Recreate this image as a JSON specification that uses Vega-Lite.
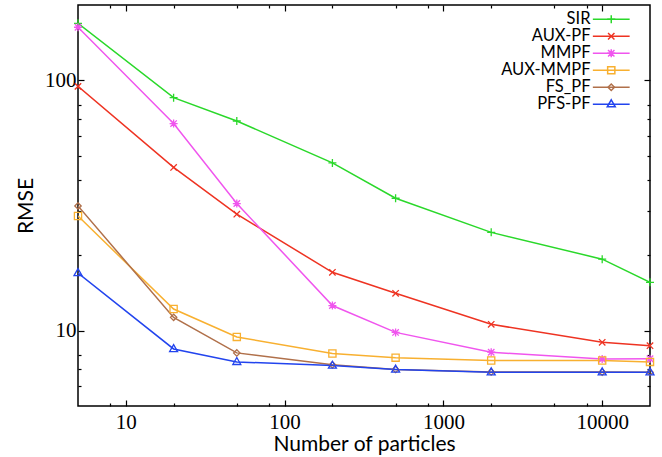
{
  "$schema": "https://vega.github.io/schema/vega-lite/v6.json",
  "width": 572,
  "height": 401,
  "autosize": "none",
  "padding": {"left": 78, "top": 5, "right": 12, "bottom": 51},
  "background": "white",
  "config": {
    "view": {"stroke": "black", "strokeWidth": 1.5},
    "axis": {"grid": false, "domain": false, "tickColor": "black", "tickWidth": 1.2, "labelColor": "black", "titleColor": "black", "labelFont": "Liberation Serif", "labelFontSize": 21, "titleFont": "Lato", "titleFontSize": 21, "titleFontWeight": "normal", "labelOverlap": false, "labelFlush": false},
    "legend": {"orient": "none", "legendX": 525, "legendY": 6, "title": null, "padding": 0,
      "symbolSize": 64, "rowPadding": -0.5, "labelFont": "Lato", "labelFontSize": 16.5, "labelColor": "black",
      "labelAlign": "right", "labelOffset": -29, "symbolStrokeWidth": 1.5}
  },
  "data": {"values": [
    {"n": 5, "rmse": 169, "method": "SIR"},
    {"n": 20, "rmse": 85.3, "method": "SIR"},
    {"n": 50, "rmse": 68.8, "method": "SIR"},
    {"n": 200, "rmse": 46.8, "method": "SIR"},
    {"n": 500, "rmse": 33.8, "method": "SIR"},
    {"n": 2000, "rmse": 24.7, "method": "SIR"},
    {"n": 10000, "rmse": 19.3, "method": "SIR"},
    {"n": 20000, "rmse": 15.6, "method": "SIR"},
    {"n": 5, "rmse": 94.6, "method": "AUX-PF"},
    {"n": 20, "rmse": 44.9, "method": "AUX-PF"},
    {"n": 50, "rmse": 29.2, "method": "AUX-PF"},
    {"n": 200, "rmse": 17.1, "method": "AUX-PF"},
    {"n": 500, "rmse": 14.1, "method": "AUX-PF"},
    {"n": 2000, "rmse": 10.6, "method": "AUX-PF"},
    {"n": 10000, "rmse": 8.98, "method": "AUX-PF"},
    {"n": 20000, "rmse": 8.71, "method": "AUX-PF"},
    {"n": 5, "rmse": 163, "method": "MMPF"},
    {"n": 20, "rmse": 67.2, "method": "MMPF"},
    {"n": 50, "rmse": 32.2, "method": "MMPF"},
    {"n": 200, "rmse": 12.6, "method": "MMPF"},
    {"n": 500, "rmse": 9.84, "method": "MMPF"},
    {"n": 2000, "rmse": 8.2, "method": "MMPF"},
    {"n": 10000, "rmse": 7.7, "method": "MMPF"},
    {"n": 20000, "rmse": 7.72, "method": "MMPF"},
    {"n": 5, "rmse": 28.7, "method": "AUX-MMPF"},
    {"n": 20, "rmse": 12.2, "method": "AUX-MMPF"},
    {"n": 50, "rmse": 9.44, "method": "AUX-MMPF"},
    {"n": 200, "rmse": 8.1, "method": "AUX-MMPF"},
    {"n": 500, "rmse": 7.8, "method": "AUX-MMPF"},
    {"n": 2000, "rmse": 7.6, "method": "AUX-MMPF"},
    {"n": 10000, "rmse": 7.6, "method": "AUX-MMPF"},
    {"n": 20000, "rmse": 7.5, "method": "AUX-MMPF"},
    {"n": 5, "rmse": 31.5, "method": "FS_PF"},
    {"n": 20, "rmse": 11.3, "method": "FS_PF"},
    {"n": 50, "rmse": 8.15, "method": "FS_PF"},
    {"n": 200, "rmse": 7.3, "method": "FS_PF"},
    {"n": 500, "rmse": 7.0, "method": "FS_PF"},
    {"n": 2000, "rmse": 6.84, "method": "FS_PF"},
    {"n": 10000, "rmse": 6.83, "method": "FS_PF"},
    {"n": 20000, "rmse": 6.82, "method": "FS_PF"},
    {"n": 5, "rmse": 17.0, "method": "PFS-PF"},
    {"n": 20, "rmse": 8.45, "method": "PFS-PF"},
    {"n": 50, "rmse": 7.5, "method": "PFS-PF"},
    {"n": 200, "rmse": 7.25, "method": "PFS-PF"},
    {"n": 500, "rmse": 6.99, "method": "PFS-PF"},
    {"n": 2000, "rmse": 6.82, "method": "PFS-PF"},
    {"n": 10000, "rmse": 6.82, "method": "PFS-PF"},
    {"n": 20000, "rmse": 6.82, "method": "PFS-PF"}
  ]},
  "resolve": {"axis": {"x": "independent", "y": "independent"}, "legend": {"color": "independent", "stroke": "independent", "shape": "independent"}},
  "layer": [
    {
      "mark": {"type": "line", "strokeWidth": 1.5, "clip": true},
      "encoding": {
        "x": {"field": "n", "type": "quantitative",
          "scale": {"type": "log", "domain": [5, 20000], "nice": false},
          "axis": {"orient": "bottom", "title": "Number of particles", "titlePadding": -2,
            "values": [8, 10, 20, 50, 80, 100, 200, 500, 800, 1000, 2000, 5000, 8000, 10000],
            "labelExpr": "(datum.value==10||datum.value==100||datum.value==1000||datum.value==10000) ? format(datum.value,'d') : ''",
            "tickSize": {"condition": {"test": "datum.value==10||datum.value==100||datum.value==1000||datum.value==10000", "value": -6}, "value": -3},
            "labelPadding": 11}},
        "y": {"field": "rmse", "type": "quantitative",
          "scale": {"type": "log", "domain": [5, 200], "nice": false},
          "axis": {"orient": "left", "title": "RMSE", "titlePadding": 8,
            "values": [6, 7, 8, 10, 20, 30, 40, 50, 60, 70, 80, 100],
            "labelExpr": "(datum.value==10||datum.value==100) ? format(datum.value,'d') : ''",
            "tickSize": {"condition": {"test": "datum.value==10||datum.value==100", "value": -6}, "value": -3},
            "labelPadding": 8}},
        "color": {"field": "method", "type": "nominal",
          "scale": {"domain": ["SIR", "AUX-PF", "MMPF", "AUX-MMPF", "FS_PF", "PFS-PF"],
            "range": ["#2ad82a", "#ee3322", "#f055ee", "#f8b030", "#b0704a", "#2244ee"]},
          "legend": {"symbolType": "M-3.4,0L3.4,0", "encode": {"symbols": {"update": {"shape": {"value": "M-4.6,0L4.6,0"}, "size": {"value": 64}, "fill": {"value": "transparent"}}}}}}
      }
    },
    {
      "mark": {"type": "point", "filled": false, "size": 64, "strokeWidth": 1.3, "opacity": 1, "clip": false},
      "encoding": {
        "x": {"field": "n", "type": "quantitative",
          "scale": {"type": "log", "domain": [5, 20000], "nice": false},
          "axis": {"orient": "top", "title": null, "labels": false,
            "values": [8, 10, 20, 50, 80, 100, 200, 500, 800, 1000, 2000, 5000, 8000, 10000],
            "tickSize": {"condition": {"test": "datum.value==10||datum.value==100||datum.value==1000||datum.value==10000", "value": -6}, "value": -3}}},
        "y": {"field": "rmse", "type": "quantitative",
          "scale": {"type": "log", "domain": [5, 200], "nice": false},
          "axis": {"orient": "right", "title": null, "labels": false,
            "values": [6, 7, 8, 10, 20, 30, 40, 50, 60, 70, 80, 100],
            "tickSize": {"condition": {"test": "datum.value==10||datum.value==100", "value": -6}, "value": -3}}},
        "stroke": {"field": "method", "type": "nominal",
          "scale": {"domain": ["SIR", "AUX-PF", "MMPF", "AUX-MMPF", "FS_PF", "PFS-PF"],
            "range": ["#2ad82a", "#ee3322", "#f055ee", "#f8b030", "#b0704a", "#2244ee"]},
          "legend": {"labelExpr": "''", "encode": {"symbols": {"update": {"fill": {"value": "transparent"}}}}}},
        "shape": {"field": "method", "type": "nominal",
          "scale": {"domain": ["SIR", "AUX-PF", "MMPF", "AUX-MMPF", "FS_PF", "PFS-PF"],
            "range": ["M-1,0L1,0M0,-1L0,1", "M-0.8,-0.8L0.8,0.8M-0.8,0.8L0.8,-0.8", "M-1,0L1,0M0,-1L0,1M-0.8,-0.8L0.8,0.8M-0.8,0.8L0.8,-0.8", "M-0.9,-0.9L0.9,-0.9L0.9,0.9L-0.9,0.9Z", "M-0.8,0L0,-0.8L0.8,0L0,0.8Z", "M0,-1.1L1,0.65L-1,0.65Z"]},
          "legend": {"labelExpr": "''", "encode": {"symbols": {"update": {"fill": {"value": "transparent"}}}}}}
      }
    }
  ]
}
